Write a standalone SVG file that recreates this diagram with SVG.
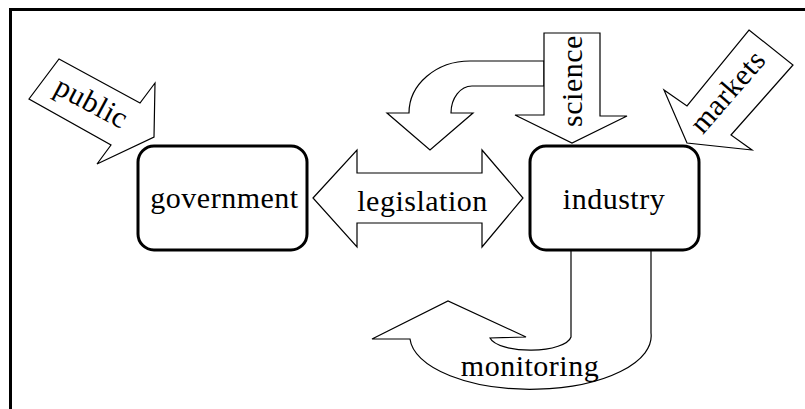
<svg xmlns="http://www.w3.org/2000/svg" width="805" height="409" viewBox="0 0 805 409">
<style>
.arrow{fill:#fff;stroke:#000;stroke-width:1.2;stroke-linejoin:miter}
.box{fill:#fff;stroke:#000;stroke-width:3}
.t{font-family:"Liberation Serif","Times New Roman",serif;font-size:30px;letter-spacing:0.5px;fill:#000;text-anchor:middle}
</style>
<rect x="0" y="0" width="805" height="409" fill="#fff"/>
<rect x="10.5" y="9.5" width="820" height="420" fill="none" stroke="#000" stroke-width="3"/>
<g id="connectors">
<g id="curved-arrow"><path class="arrow" d="M544,61 L470,61 A61,52 0 0 0 409,113 L387,113 L430,150 L473,113 L451,113 A21,27 0 0 1 472,86 L544,86 Z"/></g>
<g id="science"><polygon class="arrow" points="544,33 600,33 600,116 627,116 572,143 515,115 544,115"/><text class="t" transform="translate(582,81) rotate(-90)">science</text></g>
<g id="markets"><polygon class="arrow" points="749,30 793,65 731,135 752,150 687,143 664,90 687,106"/><text class="t" transform="translate(735,98) rotate(-49)">markets</text></g>
<g id="public"><polygon class="arrow" points="59,59 140,103 155,83 154,137 97,164 111,145 29,99"/><text class="t" transform="translate(87,111) rotate(28)">public</text></g>
<g id="legislation"><polygon class="arrow" points="313,198 357,150 357,173 482,173 482,150 523,198 482,247 482,223 357,223 357,247"/><text class="t" x="422.5" y="211">legislation</text></g>
<g id="monitoring"><path class="arrow" d="M571,250 L571,337 A41,15 0 0 1 490,338 L526,337 L448,301 L372,339 L410,339 A120,53 0 0 0 651,333 L651,250 Z"/><text class="t" x="530" y="376">monitoring</text></g>
</g>
<g id="government"><rect class="box" x="138" y="146" width="169" height="104" rx="16"/><text class="t" x="224.5" y="208">government</text></g>
<g id="industry"><rect class="box" x="530" y="146" width="169" height="104" rx="16"/><text class="t" x="614" y="209">industry</text></g>
</svg>
